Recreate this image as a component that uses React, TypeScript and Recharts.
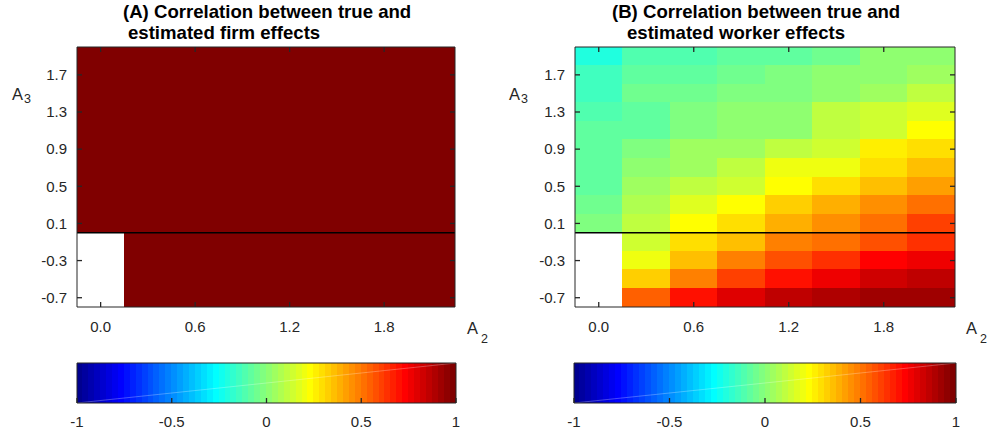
import React from 'react';
import { ScatterChart, Scatter, XAxis, YAxis, ReferenceArea, ReferenceLine } from 'recharts';

// ---- data ----
const A2_VALUES = [0.0, 0.3, 0.6, 0.9, 1.2, 1.5, 1.8, 2.1];
const A3_VALUES = [1.9, 1.7, 1.5, 1.3, 1.1, 0.9, 0.7, 0.5, 0.3, 0.1, -0.1, -0.3, -0.5, -0.7];
const A2_TICKS = [0.0, 0.6, 1.2, 1.8];
const A3_TICKS = [-0.7, -0.3, 0.1, 0.5, 0.9, 1.3, 1.7];
const CBAR_TICKS = [-1, -0.5, 0, 0.5, 1];

// correlation between true and estimated firm effects (rows follow A3_VALUES, cols follow A2_VALUES)
const FIRM_CORR: (number | null)[][] = [
  [0.99, 0.99, 0.99, 0.99, 0.99, 0.99, 0.99, 0.99],
  [0.99, 0.99, 0.99, 0.99, 0.99, 0.99, 0.99, 0.99],
  [0.99, 0.99, 0.99, 0.99, 0.99, 0.99, 0.99, 0.99],
  [0.99, 0.99, 0.99, 0.99, 0.99, 0.99, 0.99, 0.99],
  [0.99, 0.99, 0.99, 0.99, 0.99, 0.99, 0.99, 0.99],
  [0.99, 0.99, 0.99, 0.99, 0.99, 0.99, 0.99, 0.99],
  [0.99, 0.99, 0.99, 0.99, 0.99, 0.99, 0.99, 0.99],
  [0.99, 0.99, 0.99, 0.99, 0.99, 0.99, 0.99, 0.99],
  [0.99, 0.99, 0.99, 0.99, 0.99, 0.99, 0.99, 0.99],
  [0.99, 0.99, 0.99, 0.99, 0.99, 0.99, 0.99, 0.99],
  [null, 0.99, 0.99, 0.99, 0.99, 0.99, 0.99, 0.99],
  [null, 0.99, 0.99, 0.99, 0.99, 0.99, 0.99, 0.99],
  [null, 0.99, 0.99, 0.99, 0.99, 0.99, 0.99, 0.99],
  [null, 0.99, 0.99, 0.99, 0.99, 0.99, 0.99, 0.99],
];

// correlation between true and estimated worker effects
const WORKER_CORR: (number | null)[][] = [
  [-0.19, -0.125, -0.11, -0.08, -0.08, -0.05, 0.0, 0.03],
  [-0.14, -0.09, -0.07, -0.05, -0.03, 0.0, 0.03, 0.06],
  [-0.14, -0.06, -0.05, -0.015, -0.015, 0.02, 0.06, 0.095],
  [-0.11, -0.09, -0.03, 0.0, 0.02, 0.095, 0.125, 0.16],
  [-0.09, -0.08, -0.015, 0.03, 0.03, 0.095, 0.14, 0.22],
  [-0.09, -0.03, 0.05, 0.06, 0.11, 0.14, 0.25, 0.31],
  [-0.08, 0.0, 0.06, 0.095, 0.19, 0.2, 0.295, 0.36],
  [-0.08, 0.06, 0.095, 0.14, 0.22, 0.31, 0.36, 0.42],
  [-0.06, 0.08, 0.16, 0.22, 0.33, 0.39, 0.44, 0.5],
  [-0.03, 0.11, 0.22, 0.3, 0.39, 0.44, 0.53, 0.61],
  [null, 0.14, 0.3, 0.37, 0.47, 0.515, 0.59, 0.64],
  [null, 0.2, 0.37, 0.48, 0.58, 0.64, 0.72, 0.78],
  [null, 0.34, 0.48, 0.61, 0.7, 0.78, 0.83, 0.86],
  [null, 0.55, 0.69, 0.81, 0.86, 0.89, 0.92, 0.92],
];

const CMIN = -1;
const CMAX = 1;
const NCOLORS = 64;

// ---- MATLAB jet(64) ----
function jetColor(k: number): string {
  const u = (j: number) => (j <= 16 ? j / 16 : j <= 31 ? 1 : (48 - j) / 16);
  const g = k >= 9 && k <= 55 ? u(k - 8) : 0;
  const r = k >= 25 ? u(k - 24) : 0;
  const b = k <= 39 ? u(k + 8) : 0;
  const h = (c: number) => Math.round(c * 255).toString(16).padStart(2, '0');
  return '#' + h(r) + h(g) + h(b);
}
function valueColor(v: number): string {
  const k = Math.min(NCOLORS, Math.max(1, Math.floor(((v - CMIN) / (CMAX - CMIN)) * NCOLORS) + 1));
  return jetColor(k);
}

const AX = '#262626';
const FONT = '"Liberation Sans", Arial, sans-serif';
const TICK_FONT = 15;
const TICK_LEN = 5;
const TICK_W = 1.3;
const fmt1 = (v: number) => v.toFixed(1);
const fmtC = (v: number) => String(v);

const xStep = A2_VALUES[1] - A2_VALUES[0];
const yStep = A3_VALUES[0] - A3_VALUES[1];
const X_DOMAIN: [number, number] = [A2_VALUES[0] - xStep / 2, A2_VALUES[A2_VALUES.length - 1] + xStep / 2];
const Y_DOMAIN: [number, number] = [A3_VALUES[A3_VALUES.length - 1] - yStep / 2, A3_VALUES[0] + yStep / 2];

// ---- custom inward ticks (MATLAB style), mirrored onto the opposite box edge ----
const BottomTick = (fmt: (v: number) => string, gap: number, plotTop?: number) => (p: any) => (
  <g>
    <line x1={p.x} y1={p.y} x2={p.x} y2={p.y - TICK_LEN} stroke={AX} strokeWidth={TICK_W} />
    {plotTop !== undefined && (
      <line x1={p.x} y1={plotTop} x2={p.x} y2={plotTop + TICK_LEN} stroke={AX} strokeWidth={TICK_W} />
    )}
    <text x={p.x} y={p.y + gap} textAnchor="middle" dy="0.71em" fill={AX} fontSize={TICK_FONT}>
      {fmt(p.payload.value)}
    </text>
  </g>
);
const LeftTick = (plotRight: number) => (p: any) => (
  <g>
    <line x1={p.x} y1={p.y} x2={p.x + TICK_LEN} y2={p.y} stroke={AX} strokeWidth={TICK_W} />
    <line x1={plotRight - TICK_LEN} y1={p.y} x2={plotRight} y2={p.y} stroke={AX} strokeWidth={TICK_W} />
    <text x={p.x - 10} y={p.y} textAnchor="end" dy="0.355em" fill={AX} fontSize={TICK_FONT}>
      {fmt1(p.payload.value)}
    </text>
  </g>
);

const TOP_AXIS_H = 1;
const RIGHT_AXIS_W = 1;

function heatAxes(show: boolean, plotTop: number, plotRight: number) {
  const line = show ? { stroke: AX } : false;
  return [
    <XAxis
      key="xb"
      xAxisId={0}
      type="number"
      dataKey="x"
      domain={X_DOMAIN}
      allowDataOverflow
      ticks={A2_TICKS}
      interval={0}
      height={30}
      tickSize={0}
      tickMargin={0}
      axisLine={line}
      tickLine={false}
      tick={show ? BottomTick(fmt1, 14, plotTop) : false}
    />,
    <XAxis
      key="xt"
      xAxisId="top"
      orientation="top"
      type="number"
      domain={X_DOMAIN}
      allowDataOverflow
      height={TOP_AXIS_H}
      axisLine={line}
      tickLine={false}
      tick={false}
    />,
    <YAxis
      key="yl"
      yAxisId={0}
      type="number"
      dataKey="y"
      domain={Y_DOMAIN}
      allowDataOverflow
      ticks={A3_TICKS}
      interval={0}
      width={60}
      tickSize={0}
      tickMargin={0}
      axisLine={line}
      tickLine={false}
      tick={show ? LeftTick(plotRight) : false}
    />,
    <YAxis
      key="yr"
      yAxisId="right"
      orientation="right"
      type="number"
      domain={Y_DOMAIN}
      allowDataOverflow
      width={RIGHT_AXIS_W}
      axisLine={line}
      tickLine={false}
      tick={false}
    />,
  ];
}

type HeatProps = { data: (number | null)[][]; left: number; width: number; margin: any };

function Heatmap({ data, left, width, margin }: HeatProps) {
  const cells: { x: number; y: number; v: number }[] = [];
  data.forEach((row, i) =>
    row.forEach((v, j) => {
      if (v !== null) cells.push({ x: A2_VALUES[j], y: A3_VALUES[i], v });
    })
  );
  const plotTop = margin.top + TOP_AXIS_H;
  const plotRight = width - margin.right - RIGHT_AXIS_W;
  return (
    <>
      <div style={{ position: 'absolute', left, top: 0 }}>
        <ScatterChart width={width} height={340} margin={margin}>
          {cells.map((c, idx) => (
            <ReferenceArea
              key={idx}
              x1={c.x - xStep / 2}
              x2={c.x + xStep / 2}
              y1={c.y - yStep / 2}
              y2={c.y + yStep / 2}
              fill={valueColor(c.v)}
              fillOpacity={1}
              stroke={valueColor(c.v)}
              strokeWidth={1}
              shapeRendering="crispEdges"
              ifOverflow="hidden"
            />
          ))}
          <Scatter data={cells} fill="none" isAnimationActive={false} shape={() => <g />} />
          {heatAxes(false, plotTop, plotRight)}
        </ScatterChart>
      </div>
      <div style={{ position: 'absolute', left, top: 0 }}>
        <ScatterChart width={width} height={340} margin={margin}>
          <ReferenceLine y={0} stroke="#000" strokeWidth={1.6} ifOverflow="hidden" />
          <Scatter data={cells} fill="none" isAnimationActive={false} shape={() => <g />} />
          {heatAxes(true, plotTop, plotRight)}
        </ScatterChart>
      </div>
    </>
  );
}

function cbarAxes(show: boolean) {
  const line = show ? { stroke: AX } : false;
  return [
    <XAxis
      key="xb"
      xAxisId={0}
      type="number"
      dataKey="x"
      domain={[CMIN, CMAX]}
      allowDataOverflow
      ticks={CBAR_TICKS}
      interval={0}
      height={30}
      tickSize={0}
      tickMargin={0}
      axisLine={line}
      tickLine={false}
      tick={show ? BottomTick(fmtC, 13) : false}
    />,
    <XAxis key="xt" xAxisId="top" orientation="top" type="number" domain={[CMIN, CMAX]} height={1} axisLine={line} tickLine={false} tick={false} />,
    <YAxis key="yl" yAxisId={0} type="number" dataKey="y" domain={[0, 1]} allowDataOverflow width={1} axisLine={line} tickLine={false} tick={false} />,
    <YAxis key="yr" yAxisId="right" orientation="right" type="number" domain={[0, 1]} width={1} axisLine={line} tickLine={false} tick={false} />,
  ];
}

type CbarProps = { left: number; width: number; margin: any };
function Colorbar({ left, width, margin }: CbarProps) {
  const levels = Array.from({ length: NCOLORS }, (_, i) => i);
  const step = (CMAX - CMIN) / NCOLORS;
  const ends = [{ x: CMIN, y: 0 }, { x: CMAX, y: 1 }];
  return (
    <>
      <div style={{ position: 'absolute', left, top: 340 }}>
        <ScatterChart width={width} height={95} margin={margin}>
          {levels.map((i) => (
            <ReferenceArea
              key={i}
              x1={CMIN + i * step}
              x2={CMIN + (i + 1) * step}
              fill={jetColor(i + 1)}
              fillOpacity={1}
              stroke={jetColor(i + 1)}
              strokeWidth={1}
              shapeRendering="crispEdges"
              ifOverflow="hidden"
            />
          ))}
          <Scatter data={ends} fill="none" isAnimationActive={false} shape={() => <g />} />
          {cbarAxes(false)}
        </ScatterChart>
      </div>
      <div style={{ position: 'absolute', left, top: 340 }}>
        <ScatterChart width={width} height={95} margin={margin}>
          <ReferenceLine segment={ends} stroke="#ffffff" strokeOpacity={0.35} strokeWidth={0.8} ifOverflow="hidden" />
          <Scatter data={ends} fill="none" isAnimationActive={false} shape={() => <g />} />
          {cbarAxes(true)}
        </ScatterChart>
      </div>
    </>
  );
}

function AxisLabel({ x, y, main, sub, dx, dy }: { x: number; y: number; main: string; sub: string; dx: number; dy: number }) {
  return (
    <g fill={AX}>
      <text x={x} y={y} fontSize={16.5}>{main}</text>
      <text x={x + dx} y={y + dy} fontSize={12.5}>{sub}</text>
    </g>
  );
}

export default function App() {
  return (
    <div style={{ position: 'absolute', left: 0, top: 0, width: 991, height: 435, background: '#fff', fontFamily: FONT, overflow: 'hidden' }}>
      <Heatmap data={FIRM_CORR} left={0} width={495} margin={{ top: 46, left: 17, right: 39, bottom: 3 }} />
      <Heatmap data={WORKER_CORR} left={495} width={496} margin={{ top: 46, left: 20, right: 35, bottom: 3 }} />
      <Colorbar left={0} width={495} margin={{ top: 22, left: 76, right: 38, bottom: 2 }} />
      <Colorbar left={495} width={496} margin={{ top: 22, left: 78, right: 34, bottom: 2 }} />
      <svg width={991} height={435} style={{ position: 'absolute', left: 0, top: 0, pointerEvents: 'none' }} fontFamily={FONT}>
        <g fontWeight="bold" fontSize={18.6} fill="#000">
          <text x={123} y={18}>(A) Correlation between true and</text>
          <text x={128} y={39}>estimated firm effects</text>
          <text x={612} y={18}>(B) Correlation between true and</text>
          <text x={627} y={39}>estimated worker effects</text>
        </g>
        <AxisLabel x={12} y={100} main="A" sub="3" dx={12} dy={3} />
        <AxisLabel x={509} y={100} main="A" sub="3" dx={12} dy={3} />
        <AxisLabel x={467} y={334} main="A" sub="2" dx={14} dy={9} />
        <AxisLabel x={966} y={334} main="A" sub="2" dx={14} dy={9} />
      </svg>
    </div>
  );
}
